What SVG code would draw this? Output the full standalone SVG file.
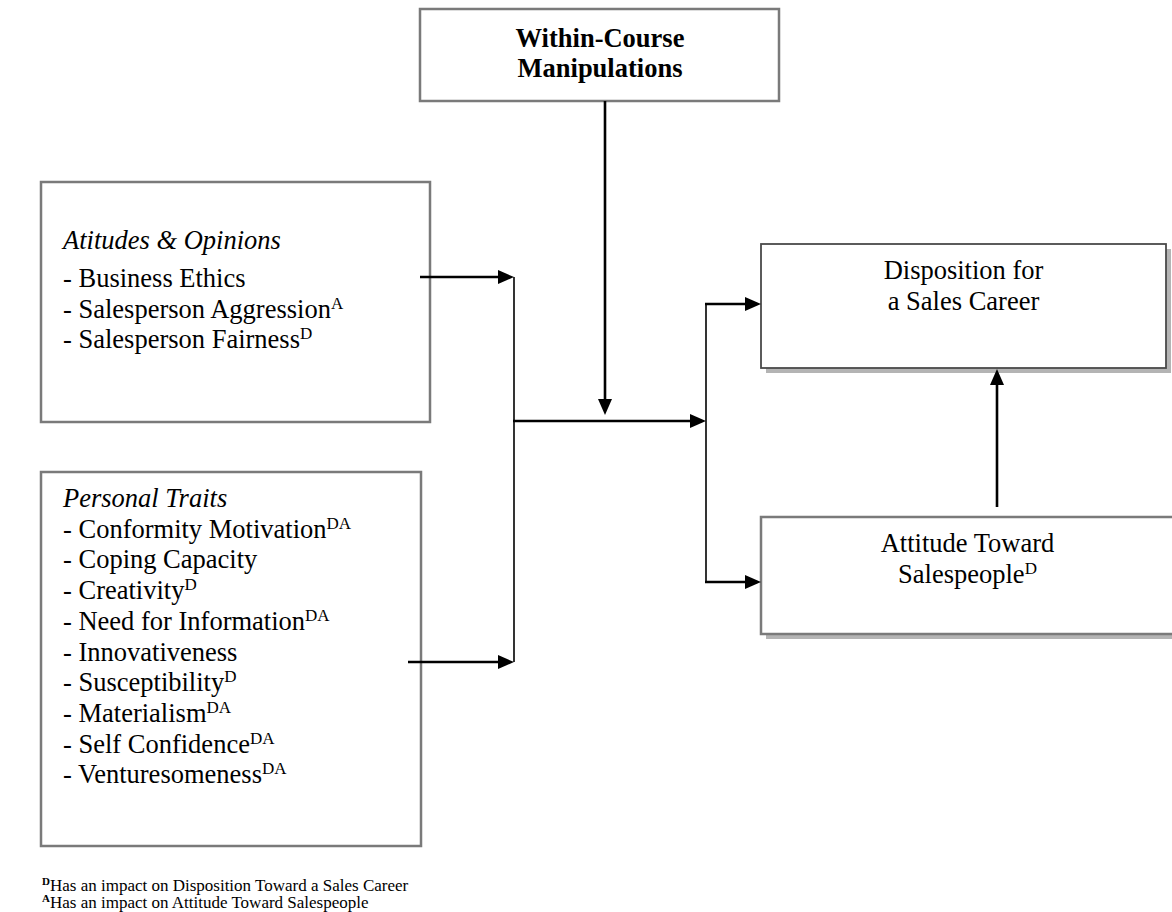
<svg xmlns="http://www.w3.org/2000/svg" width="1172" height="912" viewBox="0 0 1172 912">
<style>
text{font-family:"Liberation Serif","Times New Roman",serif;fill:#000}
.t{font-size:26.5px}
.b{font-weight:bold}
.i{font-style:italic}
.m{text-anchor:middle}
.sup{font-size:17px}
.box{fill:#fff;stroke:#7a7a7a;stroke-width:2.5}
.box2{fill:#fff;stroke:#4a4a4a;stroke-width:1.8}
.shadow{fill:#b4b4b4}
.arr{stroke:#000;stroke-width:2.6;fill:none;marker-end:url(#ah)}
.thin{stroke:#000;stroke-width:1.6;fill:none}
.fn{font-size:17px}
.fs{font-size:11px;font-weight:bold}
</style>
<defs>
<marker id="ah" markerUnits="userSpaceOnUse" markerWidth="16" markerHeight="14" refX="8" refY="7" orient="auto">
<path d="M0,0 L16,7 L0,14 z" fill="#000"/>
</marker>
</defs>
<rect width="1172" height="912" fill="#fff"/>
<g id="within-course">
<rect class="box" x="420" y="9" width="359" height="92"/>
<text class="t b m" x="600" y="46.5">Within-Course</text>
<text class="t b m" x="600" y="77">Manipulations</text>
</g>
<g id="attitudes-opinions">
<rect class="box" x="41" y="182" width="389" height="240"/>
<text class="t i" x="63" y="248.5">Atitudes &amp; Opinions</text>
<text class="t" x="63" y="287">- Business Ethics</text>
<text class="t" x="63" y="317.5">- Salesperson Aggression<tspan class="sup" dy="-9">A</tspan></text>
<text class="t" x="63" y="347.5">- Salesperson Fairness<tspan class="sup" dy="-9">D</tspan></text>
</g>
<g id="personal-traits">
<rect class="box" x="41" y="472" width="380" height="374"/>
<text class="t i" x="63" y="507">Personal Traits</text>
<text class="t" x="63" y="537.7">- Conformity Motivation<tspan class="sup" dy="-9">DA</tspan></text>
<text class="t" x="63" y="568.4">- Coping Capacity</text>
<text class="t" x="63" y="599.1">- Creativity<tspan class="sup" dy="-9">D</tspan></text>
<text class="t" x="63" y="629.8">- Need for Information<tspan class="sup" dy="-9">DA</tspan></text>
<text class="t" x="63" y="660.5">- Innovativeness</text>
<text class="t" x="63" y="691.2">- Susceptibility<tspan class="sup" dy="-9">D</tspan></text>
<text class="t" x="63" y="721.9">- Materialism<tspan class="sup" dy="-9">DA</tspan></text>
<text class="t" x="63" y="752.6">- Self Confidence<tspan class="sup" dy="-9">DA</tspan></text>
<text class="t" x="63" y="783.3">- Venturesomeness<tspan class="sup" dy="-9">DA</tspan></text>
</g>
<g id="disposition">
<rect class="shadow" x="766" y="249" width="405" height="124"/>
<rect class="box2" x="761" y="244" width="405" height="124"/>
<text class="t m" x="963.5" y="279">Disposition for</text>
<text class="t m" x="963.5" y="310">a Sales Career</text>
</g>
<g id="attitude-salespeople">
<rect class="shadow" x="766" y="522" width="412" height="117"/>
<rect class="box" x="761" y="517" width="413" height="117"/>
<text class="t m" x="967.5" y="552">Attitude Toward</text>
<text class="t m" x="967.5" y="583">Salespeople<tspan class="sup" dy="-9">D</tspan></text>
</g>
<g id="connectors">
<line class="arr" x1="420" y1="277" x2="506" y2="277"/>
<line class="arr" x1="408" y1="662" x2="506" y2="662"/>
<line class="thin" x1="514" y1="277" x2="514" y2="662"/>
<line class="arr" x1="513" y1="421" x2="698" y2="421"/>
<line class="arr" x1="605" y1="101" x2="605" y2="407"/>
<line class="thin" x1="706" y1="304" x2="706" y2="582"/>
<line class="arr" x1="705" y1="304" x2="753" y2="304"/>
<line class="arr" x1="705" y1="582" x2="753" y2="582"/>
<line class="arr" x1="997" y1="507" x2="997" y2="377"/>
</g>
<g id="footnotes">
<text class="fn" x="42" y="891"><tspan class="fs" dy="-6">D</tspan><tspan dy="6">Has an impact on Disposition Toward a Sales Career</tspan></text>
<text class="fn" x="42" y="908"><tspan class="fs" dy="-6">A</tspan><tspan dy="6">Has an impact on Attitude Toward Salespeople</tspan></text>
</g>
</svg>
